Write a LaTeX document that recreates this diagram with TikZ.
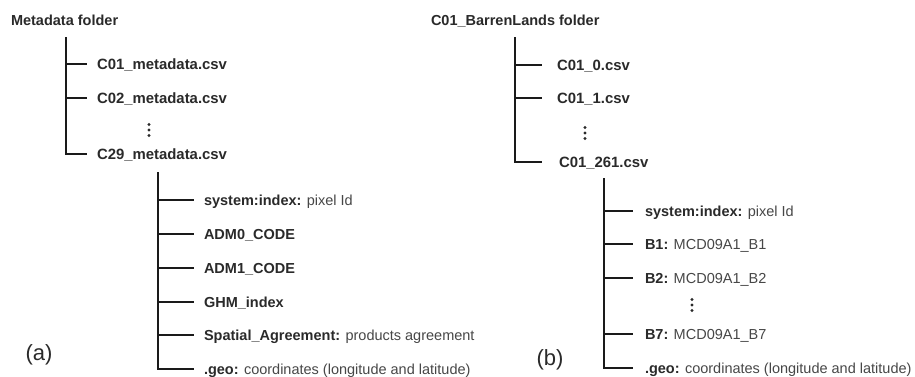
\documentclass[tikz,border=0pt]{standalone}
\usepackage{fontspec}
\setmainfont{Liberation Sans}
\begin{document}
\begin{tikzpicture}[x=1pt,y=-1pt,
  every node/.style={inner sep=0pt,outer sep=0pt},
  lbl/.style={anchor=west,text height=10.4pt,text depth=0pt,
    font=\fontsize{14.5}{17}\selectfont,text=txtc},
  flbl/.style={lbl,font=\fontsize{14.9}{17}\selectfont},
  tline/.style={draw=linec,line width=1.1pt},
  dotc/.style={fill=txtc},
  panel/.style={font=\fontsize{22}{26}\selectfont,text=txtc}
]
\definecolor{txtc}{HTML}{2A2A2A}
\definecolor{descc}{HTML}{474747}
\definecolor{linec}{HTML}{1A1A1A}
\useasboundingbox[fill=white] (0,0) rectangle (915,376);

% ---------- (a) ----------
\node[lbl] (root1) at (11,20) {\textbf{Metadata folder}};
\coordinate (v1) at (66,37);
\node[flbl] (f1) at (97,64) {\textbf{C01\_metadata.csv}};
\node[flbl] (f2) at (97,98) {\textbf{C02\_metadata.csv}};
\node[flbl] (f3) at (97,154) {\textbf{C29\_metadata.csv}};
\coordinate (d1) at (149,130);
\foreach \k in {-5.5,0,5.5} \fill[dotc] ([yshift=\k pt]d1) circle (1.6);

\draw[tline] (v1 |- f1.west) -- ([xshift=-10pt]f1.west);
\draw[tline] (v1 |- f2.west) -- ([xshift=-10pt]f2.west);
\draw[tline] (v1) |- ([xshift=-10pt]f3.west);

\coordinate (v2) at (158,172);
\node[lbl] (a1) at (204,200) {\textbf{system:index:} \textcolor{descc}{pixel Id}};
\node[lbl] (a2) at (204,234) {\textbf{ADM0\_CODE}};
\node[lbl] (a3) at (204,268) {\textbf{ADM1\_CODE}};
\node[lbl] (a4) at (204,302) {\textbf{GHM\_index}};
\node[lbl] (a5) at (204,335) {\textbf{Spatial\_Agreement:} \textcolor{descc}{products agreement}};
\node[lbl] (a6) at (204,369) {\textbf{.geo:} \textcolor{descc}{coordinates (longitude and latitude)}};
\foreach \n in {a1,a2,a3,a4,a5}
  \draw[tline] (v2 |- \n.west) -- ([xshift=-10pt]\n.west);
\draw[tline] (v2) |- ([xshift=-10pt]a6.west);

\node[panel] (pa) at (39,355) {(a)};

% ---------- (b) ----------
\node[lbl] (root2) at (431,20) {\textbf{C01\_BarrenLands folder}};
\coordinate (v3) at (515,37);
\node[flbl] (g1) at (557,65) {\textbf{C01\_0.csv}};
\node[flbl] (g2) at (557,98) {\textbf{C01\_1.csv}};
\node[flbl] (g3) at (559,162) {\textbf{C01\_261.csv}};
\coordinate (d2) at (585,133);
\foreach \k in {-5.5,0,5.5} \fill[dotc] ([yshift=\k pt]d2) circle (1.6);

\draw[tline] (v3 |- g1.west) -- (542,0 |- g1.west);
\draw[tline] (v3 |- g2.west) -- (542,0 |- g2.west);
\draw[tline] (v3) |- (542,0 |- g3.west);

\coordinate (v4) at (604,178);
\node[lbl] (b1) at (645,211) {\textbf{system:index:} \textcolor{descc}{pixel Id}};
\node[lbl] (b2) at (645,244) {\textbf{B1:} \textcolor{descc}{MCD09A1\_B1}};
\node[lbl] (b3) at (645,278) {\textbf{B2:} \textcolor{descc}{MCD09A1\_B2}};
\node[lbl] (b4) at (645,334) {\textbf{B7:} \textcolor{descc}{MCD09A1\_B7}};
\node[lbl] (b5) at (645,368) {\textbf{.geo:} \textcolor{descc}{coordinates (longitude and latitude)}};
\coordinate (d3) at (692,305);
\foreach \k in {-5.5,0,5.5} \fill[dotc] ([yshift=\k pt]d3) circle (1.6);
\foreach \n in {b1,b2,b3,b4}
  \draw[tline] (v4 |- \n.west) -- ([xshift=-12pt]\n.west);
\draw[tline] (v4) |- ([xshift=-12pt]b5.west);

\node[panel] (pb) at (550,360) {(b)};
\end{tikzpicture}
\end{document}
